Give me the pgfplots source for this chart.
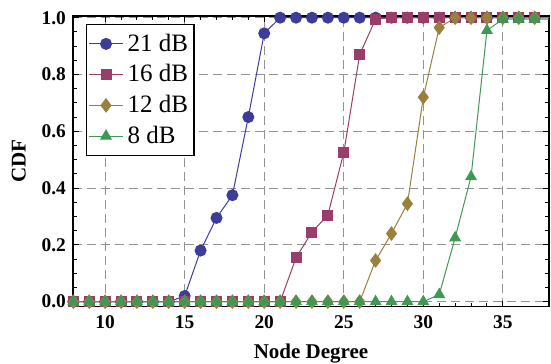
\documentclass[border=0pt]{standalone}
\usepackage{fontspec}
\setmainfont{Liberation Serif}
\usepackage{pgfplots}
\pgfplotsset{compat=1.18}
\definecolor{cA}{rgb}{0.24,0.24,0.6}
\definecolor{cB}{rgb}{0.6,0.24,0.42}
\definecolor{cC}{rgb}{0.6,0.5,0.24}
\definecolor{cD}{rgb}{0.24,0.6,0.33}
\begin{document}
\begin{tikzpicture}
\begin{axis}[
  at={(0,0)}, anchor=south west,
  scale only axis, width=238pt, height=145.4pt,
  xmin=7.98, xmax=37.9, ymin=-0.018, ymax=1.006,
  xtick={10,15,20,25,30,35},
  xticklabels={\textbf{10},\textbf{15},\textbf{20},\textbf{25},\textbf{30},\textbf{35}},
  ytick={0,0.2,0.4,0.6,0.8,1.0},
  yticklabels={\textbf{0.0},\textbf{0.2},\textbf{0.4},\textbf{0.6},\textbf{0.8},\textbf{1.0}},
  minor x tick num=4, minor y tick num=3,
  tick align=inside,
  major tick length=3pt, minor tick length=1.8pt,
  xticklabel pos=lower, yticklabel pos=left,
  xtick pos=both, ytick pos=both,
  grid=major,
  major grid style={gray!85, line width=0.5pt, dash pattern=on 4.5pt off 2.5pt},
  axis line style={line width=0.7pt},
  every tick/.style={black, line width=0.5pt},
  ticklabel style={font=\bfseries\fontsize{9.7}{10}\selectfont},
  xticklabel style={yshift=-1pt},
  xlabel={Node Degree}, ylabel={CDF},
  label style={font=\bfseries\fontsize{10.5}{12}\selectfont},
  xlabel style={yshift=-0.5pt},
  ylabel style={yshift=1pt},
  clip marker paths=false,
  legend style={at={(0.027,0.972)}, anchor=north west, draw=black, line width=0.6pt,
    font=\fontsize{12.5}{14}\selectfont, row sep=1.2pt, inner xsep=1pt, inner ysep=2.5pt,
    cells={anchor=west}},
  legend cell align=left,
  every axis plot/.append style={line width=0.5pt},
]
\addplot[cA, mark=*, mark size=2.75pt, mark options={solid, fill=cA, draw=cA}] coordinates {
(8,0)(9,0)(10,0)(11,0)(12,0)(13,0)(14,0)(15,0.02)(16,0.18)(17,0.295)(18,0.375)(19,0.65)(20,0.945)
(21,1)(22,1)(23,1)(24,1)(25,1)(26,1)(27,1)(28,1)(29,1)(30,1)(31,1)(32,1)(33,1)(34,1)(35,1)(36,1)(37,1)(38,1)};
\addlegendentry{21 dB\hspace{9pt}}
\addplot[cB, mark=square*, mark size=2.5pt, mark options={solid, fill=cB, draw=cB}] coordinates {
(8,0)(9,0)(10,0)(11,0)(12,0)(13,0)(14,0)(15,0)(16,0)(17,0)(18,0)(19,0)(20,0)(21,0)
(22,0.155)(23,0.245)(24,0.305)(25,0.525)(26,0.87)(27,0.995)
(28,1)(29,1)(30,1)(31,1)(32,1)(33,1)(34,1)(35,1)(36,1)(37,1)(38,1)};
\addlegendentry{16 dB\hspace{9pt}}
\addplot[cC, mark=diamond*, mark size=3.3pt, mark options={solid, fill=cC, draw=cC}] coordinates {
(8,0)(9,0)(10,0)(11,0)(12,0)(13,0)(14,0)(15,0)(16,0)(17,0)(18,0)(19,0)(20,0)(21,0)(22,0)(23,0)(24,0)(25,0)(26,0)
(27,0.145)(28,0.24)(29,0.345)(30,0.72)(31,0.965)
(32,1)(33,1)(34,1)(35,1)(36,1)(37,1)(38,1)};
\addlegendentry{12 dB\hspace{9pt}}
\addplot[cD, mark=triangle*, mark size=3pt, mark options={solid, fill=cD, draw=cD}] coordinates {
(8,0)(9,0)(10,0)(11,0)(12,0)(13,0)(14,0)(15,0)(16,0)(17,0)(18,0)(19,0)(20,0)(21,0)(22,0)(23,0)(24,0)(25,0)(26,0)(27,0)(28,0)(29,0)(30,0)
(31,0.025)(32,0.225)(33,0.44)(34,0.955)
(35,0.995)(36,0.995)(37,0.995)(38,0.995)};
\addlegendentry{8 dB\hspace{9pt}}
\end{axis}
\pgfresetboundingbox
\path[use as bounding box] (-36.5pt,-28.15pt) rectangle (239pt,153.4pt);
\end{tikzpicture}
\end{document}
